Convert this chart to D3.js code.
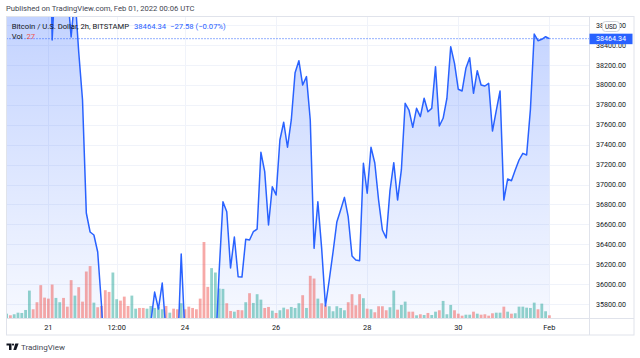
<!DOCTYPE html>
<html><head><meta charset="utf-8">
<script src="https://cdn.jsdelivr.net/npm/d3@7"></script>
<style>html,body{margin:0;padding:0;background:#fff;overflow:hidden}svg{display:block}text{font-family:Roboto,"Liberation Sans",sans-serif}</style>
</head><body><svg id="c" width="640" height="358"></svg>
<script>
// ---------- DATA ----------
const startTime = Date.UTC(2022, 0, 20, 2); // first 2h bar
const stepHours = 2;
const closes = [
  41700,41900,42100,41900,42300,42600,42500,42800,43100,41800,40600,40700,
  38451,39200,39000,39100,38950,
  38481,38902,38331,37849,36714,36523,36493,36322,35790,
  35100,35200,34900,34600,34400,34700,35000,35200,35100,35300,35400,35350,35620,
  35920,35750,36011,35520,35400,35350,35250,36302,35480,
  35100,34700,34300,33900,33400,33100,33700,35300,
  36131,36827,36727,36162,36473,36074,36070,36450,36443,36526,36553,37323,37129,36593,
  36978,36895,37447,37625,37374,37648,38123,38243,37999,38083,37648,36359,36827,36359,
  35780,36041,36322,36623,36744,36871,36674,36282,36242,36235,37213,36912,37374,37216,
  36844,36543,36463,36938,37219,36844,37146,37815,37748,37574,37765,37681,37866,37731,
  37765,38183,37587,37665,37866,38384,38217,37956,37939,38167,38273,37916,38143,37999,
  37989,38016,37537,37741,37939,36844,37055,37038,37146,37246,37313,37296,37755,38511,
  38444,38458,38484,38464.34
];
const volumes = [
  43,27,37,53,50,80,273,87,157,327,
  203,193,333,200,157,200,113,377,223,307,
  163,463,517,153,107,120,277,260,453,187,
  173,213,120,223,93,100,100,93,120,100,
  110,87,120,53,93,87,147,87,113,100,
  87,193,757,310,497,453,293,290,147,70,
  63,80,77,157,247,150,237,183,100,110,
  73,50,77,103,87,110,100,147,227,100,
  420,393,193,147,127,117,67,117,100,77,
  157,237,127,237,197,93,87,57,117,117,
  77,107,273,83,130,163,63,63,27,37,
  30,50,30,63,77,170,37,130,77,43,
  23,33,33,63,43,33,37,23,47,53,
  53,113,63,43,47,113,113,103,100,153,
  87,143,67,27
];
const volumeDirs = (
  "grgggggrrr"+"rrrggrrrgr"+"rrrgrrrrgg"+"rrrggrrggg"+"ggrgrrgrrr"+
  "rrrrggggrr"+"grrgrgggrr"+"grggrgggrg"+"rrgrrggggg"+"rrrrgrgrrr"+
  "rggrggrrgr"+"grggrgggrr"+"rggrgrrrrg"+"grgrgggggg"+"rggr").split("");
const priceTicks = [35800,36000,36200,36400,36600,36800,37000,37200,37400,37600,37800,38000,38200,38400,38600];
const timeTickDates = ["2022-01-21T00:00Z","2022-01-22T12:00Z","2022-01-24T00:00Z","2022-01-26T00:00Z","2022-01-28T00:00Z","2022-01-30T00:00Z","2022-02-01T00:00Z"];
const timeTickLabels = ["21","12:00","24","26","28","30","Feb"];
const publishedText = "Published on TradingView.com, Feb 01, 2022 00:06 UTC";
const symbolText = "Bitcoin / U.S. Dollar, 2h, BITSTAMP";
const lastText = "38464.34";
const changeText = "\u221227.58 (\u22120.07%)";
const lastVolText = "27";

// ---------- LAYOUT ----------
const L = 6.5, R = 589, T = 17, B = 318, AXB = 335, FR = 634;
const firstX = 6.6, lastX = 549.4;
const blue = "#2962ff";
const svg = d3.select("#c");
const times = closes.map((_, i) => new Date(startTime + i * stepHours * 3600e3));

// font size fitted so that a sample text has a target width
function fitSize(sample, target, base) {
  const t = svg.append("text").attr("font-size", base).text(sample);
  const w = t.node().getComputedTextLength();
  t.remove();
  return base * target / w;
}
const fsPub = fitSize(publishedText, 189, 10);
const fsLeg = fitSize(symbolText, 117.5, 10);
const fsAxis = fitSize("38200.00", 30, 10);
const fsTime = fitSize("12:00", 18.5, 10);
const fsTV = fitSize("TradingView", 44, 10);

const x = d3.scaleUtc().domain([times[0], times[times.length - 1]]).range([firstX, lastX]);
const y = d3.scaleLinear().domain([35800, 38200]).range([304, 65]);
const vH = d3.scaleLinear().domain([0, d3.max(volumes)]).range([0, 76]);

const defs = svg.append("defs");
defs.append("clipPath").attr("id", "plot").append("rect")
  .attr("x", L).attr("y", T).attr("width", R - L).attr("height", B - T);
const g = defs.append("linearGradient").attr("id", "ag").attr("gradientUnits", "userSpaceOnUse")
  .attr("x1", 0).attr("x2", 0).attr("y1", T).attr("y2", B);
g.append("stop").attr("offset", 0).attr("stop-color", blue).attr("stop-opacity", 0.28);
g.append("stop").attr("offset", 1).attr("stop-color", blue).attr("stop-opacity", 0.04);

// grid
const grid = svg.append("g");
grid.selectAll("line.h").data(priceTicks).join("line")
  .attr("x1", L).attr("x2", R).attr("y1", d => Math.round(y(d)) + 0.5).attr("y2", d => Math.round(y(d)) + 0.5)
  .attr("stroke", "#f0f3fa");
grid.selectAll("line.v").data(timeTickDates).join("line")
  .attr("y1", T).attr("y2", B).attr("x1", d => Math.round(x(new Date(d))) + 0.5).attr("x2", d => Math.round(x(new Date(d))) + 0.5)
  .attr("stroke", "#f0f3fa");

const plot = svg.append("g").attr("clip-path", "url(#plot)");
const series = closes.map((c, i) => ({ t: times[i], c }));
plot.append("path").datum(series)
  .attr("d", d3.area().x(d => x(d.t)).y0(B).y1(d => y(d.c)))
  .attr("fill", "url(#ag)");

// volume
const bw = 2.8;
plot.selectAll("rect.vol").data(volumes).join("rect")
  .attr("x", (v, i) => x(times[i]) - bw / 2)
  .attr("width", bw)
  .attr("y", v => B - vH(v))
  .attr("height", v => vH(v))
  .attr("fill", (v, i) => volumeDirs[i] === "g" ? "rgba(38,166,154,0.5)" : "rgba(239,83,80,0.5)");

plot.append("path").datum(series)
  .attr("d", d3.line().x(d => x(d.t)).y(d => y(d.c)))
  .attr("fill", "none").attr("stroke", blue).attr("stroke-width", 1.5).attr("stroke-linejoin", "round");

// last price dotted line
const lastY = y(closes[closes.length - 1]);
svg.append("line").attr("x1", L).attr("x2", R).attr("y1", lastY).attr("y2", lastY)
  .attr("stroke", blue).attr("stroke-width", 1).attr("stroke-dasharray", "1,2");

// frame
const fr = svg.append("g").attr("fill", "none").attr("stroke", "#e0e3eb");
fr.append("rect").attr("x", L).attr("y", T - 0.5).attr("width", FR - L).attr("height", AXB - T + 0.5);
fr.append("line").attr("x1", R + 0.5).attr("x2", R + 0.5).attr("y1", T).attr("y2", AXB);
fr.append("line").attr("x1", L).attr("x2", FR).attr("y1", B + 0.5).attr("y2", B + 0.5);

// price axis labels
svg.append("g").selectAll("text").data(priceTicks).join("text")
  .attr("x", 626).attr("y", d => y(d)).attr("dy", "0.35em").attr("text-anchor", "end")
  .attr("font-size", fsAxis).attr("fill", "#131722").text(d => d.toFixed(2));

// USD badge
svg.append("rect").attr("x", 602.5).attr("y", 21.5).attr("width", 17).attr("height", 10).attr("rx", 3)
  .attr("fill", "#fff").attr("stroke", "#d1d4dc");
svg.append("text").attr("x", 611).attr("y", 26.5).attr("dy", "0.35em").attr("text-anchor", "middle")
  .attr("font-size", fsAxis * 0.9).attr("fill", "#131722").text("USD");

// last price box
svg.append("rect").attr("x", 589.5).attr("y", lastY - 5).attr("width", 43).attr("height", 10.5).attr("fill", blue);
svg.append("text").attr("x", 611).attr("y", lastY + 0.3).attr("dy", "0.35em").attr("text-anchor", "middle")
  .attr("font-size", fsAxis).attr("fill", "#fff").text(lastText);

// time axis labels
svg.append("g").selectAll("text").data(timeTickDates).join("text")
  .attr("x", d => x(new Date(d))).attr("y", 327).attr("dy", "0.35em").attr("text-anchor", "middle")
  .attr("font-size", fsTime).attr("fill", "#131722").text((d, i) => timeTickLabels[i]);

// header
svg.append("text").attr("x", 6).attr("y", 8.5).attr("dy", "0.35em").attr("font-size", fsPub).attr("fill", "#434651").text(publishedText);
const leg = svg.append("text").attr("x", 11.7).attr("y", 26).attr("dy", "0.35em").attr("font-size", fsLeg).attr("fill", "#131722");
leg.append("tspan").text(symbolText);
leg.append("tspan").attr("x", 134).attr("fill", blue).text(lastText);
leg.append("tspan").attr("x", 170).attr("fill", blue).text(changeText);
const vl = svg.append("text").attr("x", 11.7).attr("y", 36.7).attr("dy", "0.35em").attr("font-size", fsLeg).attr("fill", "#131722");
vl.append("tspan").text("Vol");
vl.append("tspan").attr("x", 26.5).attr("fill", "#ef5350").text(lastVolText);

// TradingView logo
const logo = svg.append("g").attr("fill", "#131722");
logo.append("path").attr("d", "M6.5,343.5 H11.5 V350 H9 V345.6 H6.5 Z");
logo.append("circle").attr("cx", 13).attr("cy", 344.6).attr("r", 1.1);
logo.append("path").attr("d", "M15.3,343.5 H18.6 L16.2,350 H13.3 Z");
svg.append("text").attr("x", 21).attr("y", 347).attr("dy", "0.35em").attr("font-size", fsTV).attr("fill", "#434651").text("TradingView");
</script></body></html>
